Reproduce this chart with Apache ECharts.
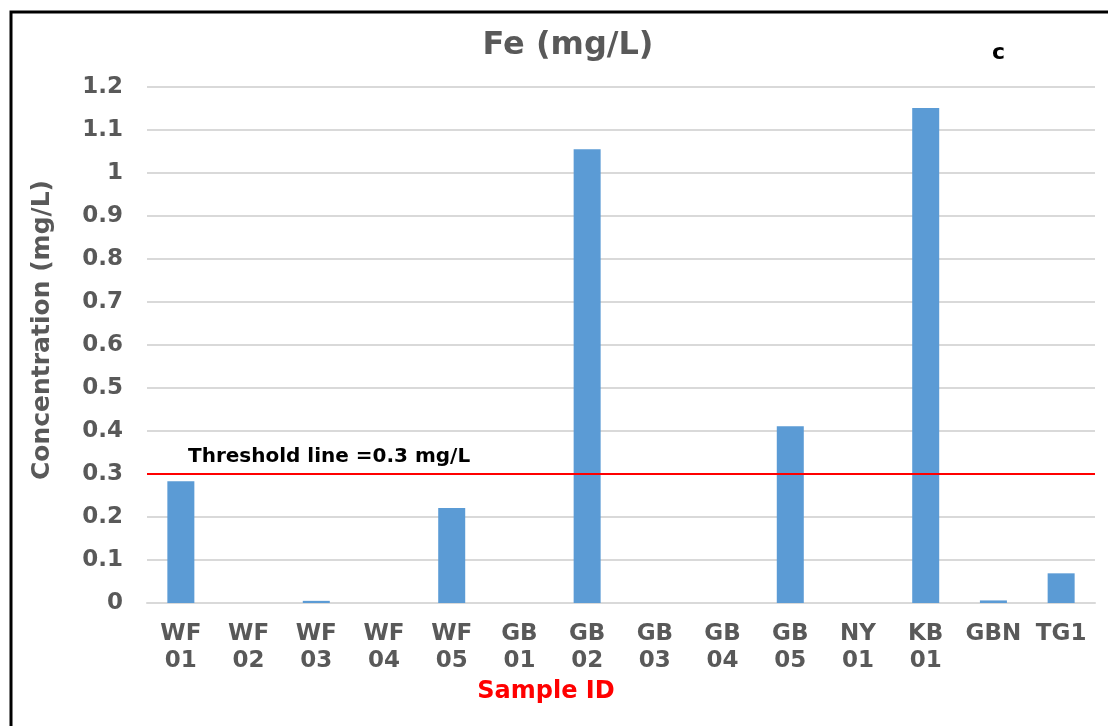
<!DOCTYPE html>
<html>
<head>
<meta charset="utf-8">
<script src="https://cdn.jsdelivr.net/npm/echarts@6/dist/echarts.min.js"></script>
<style>html,body{margin:0;padding:0;background:#fff;}#c{width:1108px;height:726px;}</style>
</head>
<body>
<div id="c"></div>
<script>
const categories = ['WF\n01','WF\n02','WF\n03','WF\n04','WF\n05','GB\n01','GB\n02','GB\n03','GB\n04','GB\n05','NY\n01','KB\n01','GBN','TG1'];
const feValues = [0.283, 0, 0.005, 0, 0.221, 0, 1.055, 0, 0, 0.411, 0, 1.151, 0.006, 0.069];
const threshold = 0.3;
const yTicks = { min: 0, max: 1.2, interval: 0.1 };

const FONT = '"DejaVu Sans", Verdana, sans-serif';
const GREY = '#595959';
const chart = echarts.init(document.getElementById('c'), null, { renderer: 'canvas' });
chart.setOption({
  animation: false,
  backgroundColor: '#fff',
  title: {
    text: 'Fe (mg/L)', left: 563, top: 25, textAlign: 'center',
    textStyle: { fontFamily: FONT, fontWeight: 'bold', fontSize: 32, color: GREY }
  },
  graphic: [
    { type: 'rect', shape: { x: 11, y: 12, width: 1110, height: 730 }, style: { fill: null, stroke: '#000', lineWidth: 3 }, silent: true, z: 100 },
    { type: 'text', left: 992, top: 42, style: { text: 'c', font: 'bold 22px ' + FONT, fill: '#000' } }
  ],
  grid: { left: 147, right: 13, top: 87, bottom: 123, containLabel: false },
  xAxis: {
    type: 'category', data: categories,
    name: 'Sample ID', nameLocation: 'middle', nameGap: 76,
    nameTextStyle: { fontFamily: FONT, fontWeight: 'bold', fontSize: 24, color: '#ff0000', padding: [0, 150, 0, 0] },
    axisLine: { lineStyle: { color: '#d9d9d9', width: 2 } },
    axisTick: { show: false },
    axisLabel: { fontFamily: FONT, fontWeight: 'bold', fontSize: 23, color: GREY, margin: 18, lineHeight: 27, interval: 0 }
  },
  yAxis: {
    type: 'value', min: yTicks.min, max: yTicks.max, interval: yTicks.interval,
    name: 'Concentration (mg/L)', nameLocation: 'middle', nameGap: 92,
    nameTextStyle: { fontFamily: FONT, fontWeight: 'bold', fontSize: 25, color: GREY, padding: [0, 0, 0, 30] },
    axisLine: { show: false }, axisTick: { show: false },
    axisLabel: { fontFamily: FONT, fontWeight: 'bold', fontSize: 23, color: GREY, margin: 24,
      formatter: v => String(Math.round(v * 10) / 10) },
    splitLine: { lineStyle: { color: '#d9d9d9', width: 2 } }
  },
  series: [{
    type: 'bar', data: feValues, barWidth: 27,
    itemStyle: { color: '#5B9BD5' },
    markLine: {
      silent: true, symbol: 'none',
      lineStyle: { color: '#ff0000', width: 2, type: 'solid' },
      data: [{ yAxis: threshold }],
      label: { show: true, position: 'insideStartTop', distance: [41, 7],
        formatter: 'Threshold line =' + threshold + ' mg/L',
        fontFamily: FONT, fontWeight: 'bold', fontSize: 20, color: '#000' }
    }
  }]
});
</script>
</body>
</html>
